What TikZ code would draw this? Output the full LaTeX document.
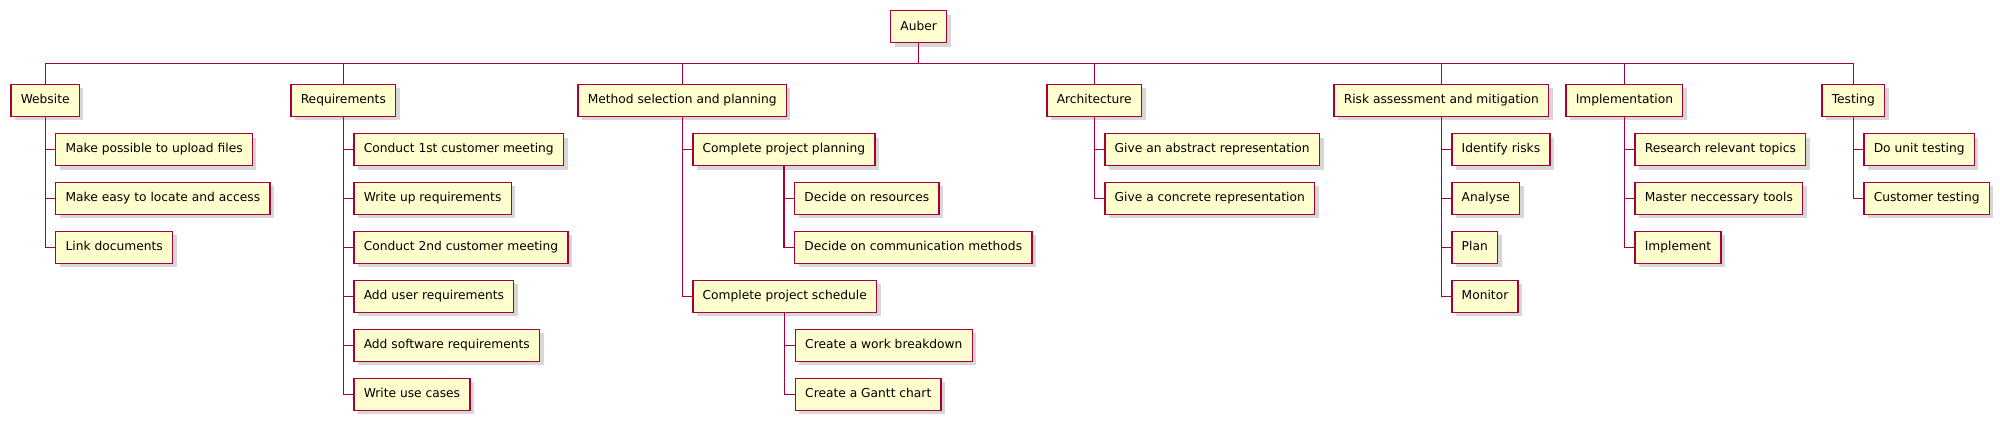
\documentclass[tikz,border=0pt]{standalone}
\usepackage{fontspec}
\setmainfont{DejaVu Sans}
\usetikzlibrary{shadows,calc}
\definecolor{boxfill}{HTML}{FEFECE}
\definecolor{boxline}{HTML}{A80036}
\begin{document}
\begin{tikzpicture}[x=1pt,y=-1pt,
  wbs/.style={draw=boxline, fill=boxfill, line width=1.3pt, inner xsep=9.8pt, inner ysep=0pt,
    minimum height=32pt, font=\fontsize{12.25}{14}\selectfont, text height=9pt, text depth=2.6pt,
    anchor=west, drop shadow={shadow xshift=4pt, shadow yshift=-4pt, draw=none, fill=black!45, opacity=0.35}},
  link/.style={draw=boxline, line width=1.3pt}]
\useasboundingbox (0,0) rectangle (2000,429);
\coordinate (bus) at (0,63.3);
% root
\node[wbs] (root) at (890,26.8) {Auber};
% level 1
\node[wbs] (w) at (10.3,100.3) {Website};
\node[wbs] (req) at (290.3,100.3) {Requirements};
\node[wbs] (msp) at (577.3,100.3) {Method selection and planning};
\node[wbs] (arch) at (1046.3,100.3) {Architecture};
\node[wbs] (risk) at (1333.3,100.3) {Risk assessment and mitigation};
\node[wbs] (impl) at (1565.3,100.3) {Implementation};
\node[wbs] (test) at (1821.3,100.3) {Testing};
% Website
\node[wbs] (w1) at ($(w.south|-0,149.7)+(10,0)$) {Make possible to upload files};
\node[wbs] (w2) at ($(w.south|-0,198.3)+(10,0)$) {Make easy to locate and access};
\node[wbs] (w3) at ($(w.south|-0,247.3)+(10,0)$) {Link documents};
% Requirements
\node[wbs] (req1) at ($(req.south|-0,149.7)+(10,0)$) {Conduct 1st customer meeting};
\node[wbs] (req2) at ($(req.south|-0,198.3)+(10,0)$) {Write up requirements};
\node[wbs] (req3) at ($(req.south|-0,247.3)+(10,0)$) {Conduct 2nd customer meeting};
\node[wbs] (req4) at ($(req.south|-0,296.3)+(10,0)$) {Add user requirements};
\node[wbs] (req5) at ($(req.south|-0,345.3)+(10,0)$) {Add software requirements};
\node[wbs] (req6) at ($(req.south|-0,394.3)+(10,0)$) {Write use cases};
% Method selection
\node[wbs] (mp) at ($(msp.south|-0,149.7)+(10,0)$) {Complete project planning};
\node[wbs] (mp1) at ($(mp.south|-0,198.3)+(10,0)$) {Decide on resources};
\node[wbs] (mp2) at ($(mp.south|-0,247.3)+(10,0)$) {Decide on communication methods};
\node[wbs] (ms) at ($(msp.south|-0,296.3)+(10,0)$) {Complete project schedule};
\node[wbs] (ms1) at ($(ms.south|-0,345.3)+(10,0)$) {Create a work breakdown};
\node[wbs] (ms2) at ($(ms.south|-0,394.3)+(10,0)$) {Create a Gantt chart};
% Architecture
\node[wbs] (arch1) at ($(arch.south|-0,149.7)+(10,0)$) {Give an abstract representation};
\node[wbs] (arch2) at ($(arch.south|-0,198.3)+(10,0)$) {Give a concrete representation};
% Risk
\node[wbs] (risk1) at ($(risk.south|-0,149.7)+(10,0)$) {Identify risks};
\node[wbs] (risk2) at ($(risk.south|-0,198.3)+(10,0)$) {Analyse};
\node[wbs] (risk3) at ($(risk.south|-0,247.3)+(10,0)$) {Plan};
\node[wbs] (risk4) at ($(risk.south|-0,296.3)+(10,0)$) {Monitor};
% Implementation
\node[wbs] (impl1) at ($(impl.south|-0,149.7)+(10,0)$) {Research relevant topics};
\node[wbs] (impl2) at ($(impl.south|-0,198.3)+(10,0)$) {Master neccessary tools};
\node[wbs] (impl3) at ($(impl.south|-0,247.3)+(10,0)$) {Implement};
% Testing
\node[wbs] (test1) at ($(test.south|-0,149.7)+(10,0)$) {Do unit testing};
\node[wbs] (test2) at ($(test.south|-0,198.3)+(10,0)$) {Customer testing};
% connectors
\draw[link] (root.south) -- (root.south|-bus);
\draw[link] (w.north|-bus) -- (test.north|-bus);
\foreach \p in {w,req,msp,arch,risk,impl,test}
  \draw[link] (\p.north|-bus) -- (\p.north);
\foreach \p/\cs in {w/{w1,w2,w3}, req/{req1,req2,req3,req4,req5,req6}, msp/{mp,ms},
    mp/{mp1,mp2}, ms/{ms1,ms2}, arch/{arch1,arch2}, risk/{risk1,risk2,risk3,risk4},
    impl/{impl1,impl2,impl3}, test/{test1,test2}}
  \foreach \c in \cs
    \draw[link] (\p.south) |- (\c.west);
\end{tikzpicture}
\end{document}
